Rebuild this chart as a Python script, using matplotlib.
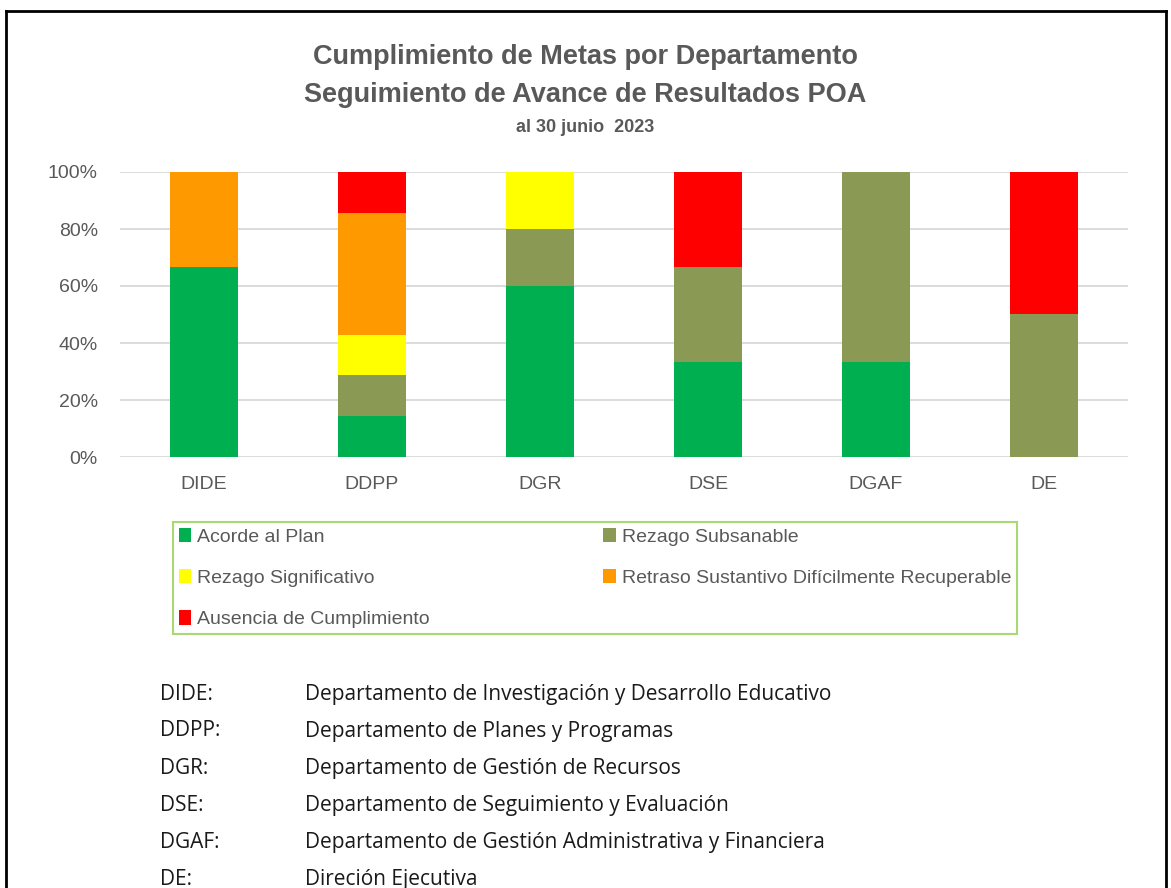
import matplotlib
matplotlib.use("Agg")
import matplotlib.pyplot as plt
from matplotlib.lines import Line2D
from matplotlib.ticker import FuncFormatter
import numpy as np

categories = ["DIDE", "DDPP", "DGR", "DSE", "DGAF", "DE"]
series_names = ["Acorde al Plan", "Rezago Subsanable", "Rezago Significativo",
                "Retraso Sustantivo Difícilmente Recuperable", "Ausencia de Cumplimiento"]
acorde = [66.7, 14.3, 60.0, 33.3, 33.3, 0.0]
subsanable = [0.0, 14.3, 20.0, 33.3, 66.7, 50.0]
significativo = [0.0, 14.3, 20.0, 0.0, 0.0, 0.0]
retraso = [33.3, 42.8, 0.0, 0.0, 0.0, 0.0]
ausencia = [0.0, 14.3, 0.0, 33.4, 0.0, 50.0]
colors = ["#00B050", "#8A9A55", "#FFFF00", "#FF9900", "#FF0000"]
yticks = [0, 20, 40, 60, 80, 100]

abbrevs = ["DIDE:", "DDPP:", "DGR:", "DSE:", "DGAF:", "DE:"]
descriptions = ["Departamento de Investigación y Desarrollo Educativo",
                "Departamento de Planes y Programas",
                "Departamento de Gestión de Recursos",
                "Departamento de Seguimiento y Evaluación",
                "Departamento de Gestión Administrativa y Financiera",
                "Direción Ejecutiva"]

FONT = ["Liberation Sans", "DejaVu Sans"]
FONT2 = ["Open Sans", "Liberation Sans", "DejaVu Sans"]
plt.rcParams['font.family'] = FONT

W, H = 1171, 888
fig = plt.figure(figsize=(W / 100, H / 100), dpi=100)

def fx(px):
    return px / W

def fy(py):
    return 1 - py / H

ax = fig.add_axes([fx(120), fy(457), fx(1128) - fx(120), fy(172) - fy(457)])
data = [acorde, subsanable, significativo, retraso, ausencia]
x = np.arange(len(categories))
bottom = np.zeros(len(categories))
handles = []
for vals, name, c in zip(data, series_names, colors):
    vals = np.array(vals)
    b = ax.bar(x, vals, 0.405, bottom=bottom, color=c, label=name, zorder=3)
    handles.append(b)
    bottom += vals

ax.set_xlim(-0.5, len(categories) - 0.5)
ax.set_ylim(0, 100)
ax.set_yticks(yticks)
ax.yaxis.set_major_formatter(FuncFormatter(lambda v, p: f"{int(v)}%"))
ax.set_xticks(x)
ax.set_xticklabels(categories)
ax.grid(axis='y', color='#D9D9D9', linewidth=1.3, zorder=0)
for s in ax.spines.values():
    s.set_visible(False)
ax.tick_params(axis='both', length=0, colors='#595959', labelsize=14)
ax.tick_params(axis='y', pad=16)
ax.tick_params(axis='x', pad=14)

# Titles
fig.text(0.5, fy(57), "Cumplimiento de Metas por Departamento", ha='center', va='center',
         fontsize=19.5, fontweight='bold', color='#595959')
fig.text(0.5, fy(95), "Seguimiento de Avance de Resultados POA", ha='center', va='center',
         fontsize=19.5, fontweight='bold', color='#595959')
fig.text(0.5, fy(128), "al 30 junio  2023", ha='center', va='center',
         fontsize=13, fontweight='bold', color='#595959')

# Legend (row-major order)
order = [0, 2, 4, 1, 3]
leg = fig.legend([handles[i] for i in order], [series_names[i] for i in order],
                 loc='lower left', ncol=2, mode='expand',
                 bbox_to_anchor=(fx(173), fy(634), fx(1017) - fx(173), fy(514) - fy(634)),
                 bbox_transform=fig.transFigure, borderaxespad=0,
                 fontsize=14, frameon=True, fancybox=False,
                 handlelength=0.65, handleheight=0.75, handletextpad=0.3,
                 labelspacing=1.2, borderpad=0.3, columnspacing=1.0)
leg.get_frame().set_edgecolor('#92D050')
leg.get_frame().set_linewidth(1.5)
for t in leg.get_texts():
    t.set_color('#595959')

# Definitions
ys = [694, 731, 768, 805, 842, 879]
for a, d, yy in zip(abbrevs, descriptions, ys):
    fig.text(fx(160), fy(yy), a, ha='left', va='center', fontsize=15, color='#1a1a1a', family=FONT2)
    fig.text(fx(305), fy(yy), d, ha='left', va='center', fontsize=15, color='#1a1a1a', family=FONT2)

# Border
fig.add_artist(Line2D([fx(6), fx(1166)], [fy(11), fy(11)], color='black', lw=2, transform=fig.transFigure))
fig.add_artist(Line2D([fx(6), fx(6)], [fy(11), 0], color='black', lw=2, transform=fig.transFigure))
fig.add_artist(Line2D([fx(1166), fx(1166)], [fy(11), 0], color='black', lw=2, transform=fig.transFigure))

fig.savefig("out.png", dpi=100)
